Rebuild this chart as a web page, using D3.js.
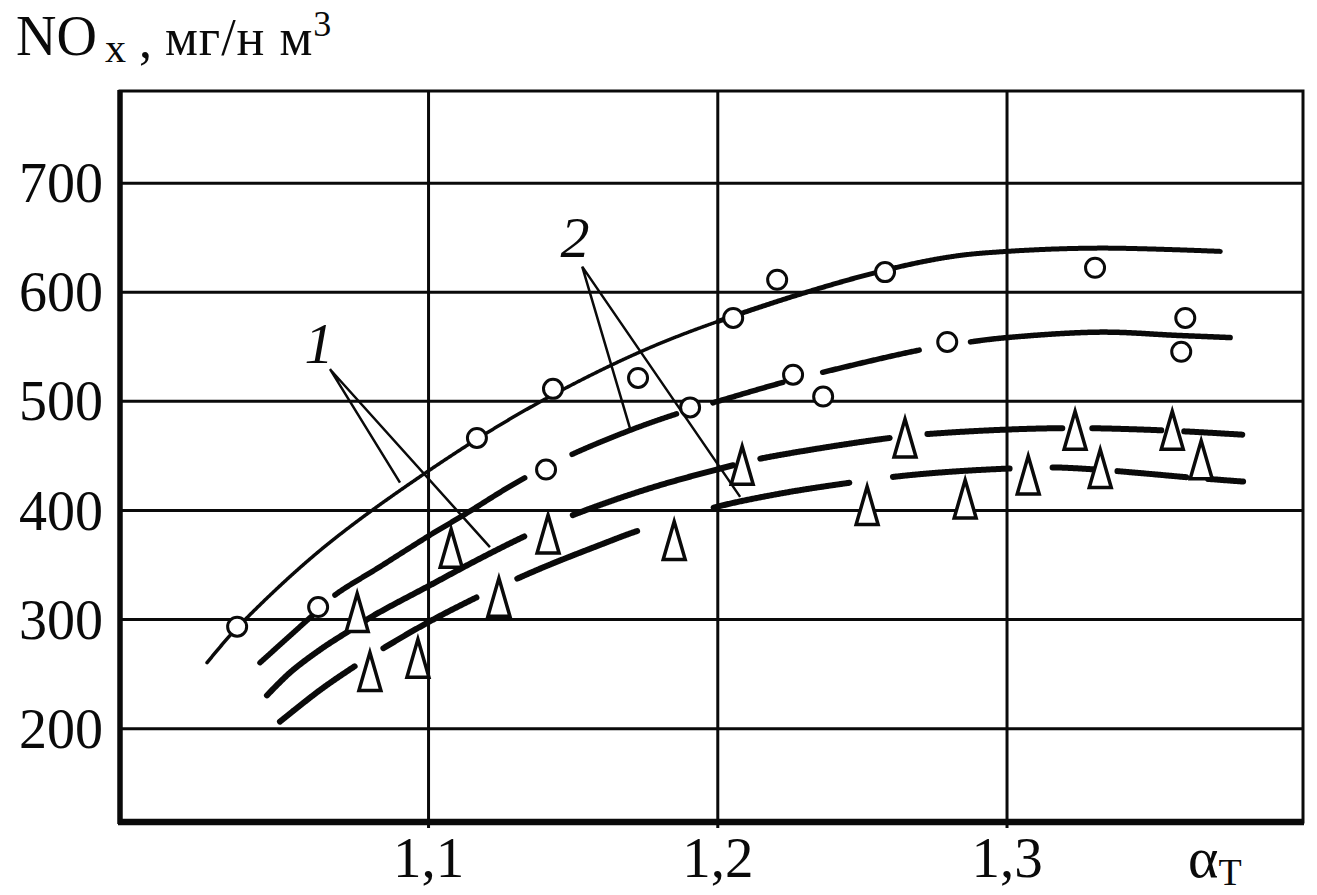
<!DOCTYPE html>
<html><head><meta charset="utf-8">
<script src="https://cdn.jsdelivr.net/npm/d3@7"></script>
<style>body{margin:0;background:#fff}svg{display:block}</style>
</head><body>
<svg id="chart" width="1317" height="895"></svg>
<script>
// ---------- data ----------
const xTicks = [1.1, 1.2, 1.3];
const xTickLabels = ["1,1", "1,2", "1,3"];
const yTicks = [200, 300, 400, 500, 600, 700];
const yTickLabels = ["200", "300", "400", "500", "600", "700"];

// curve 1 (circles, upper)
const curveA_x = [1.0236,1.034,1.0627,1.0997,1.1353,1.1743,1.2103,1.2539,1.2805,1.3002,1.3324,1.3739];
const curveA_y = [260,292,363,435,494,546,582,617,632,637,640,637];
const curveA_pieces = [[1.0236,1.2],[1.2,1.3739]];
const circlesA_x = [1.034,1.1169,1.1432,1.1726,1.2055,1.2207,1.258,1.3306];
const circlesA_y = [293,466,511,521,576,611,618,622];

// curve 2 (circles, lower)
const curveB_x = [1.0419,1.062,1.0678,1.0834,1.1007,1.1121,1.1318,1.1498,1.1698,1.1847,1.1982,1.2228,1.2362,1.2708,1.2874,1.3002,1.3324,1.359,1.3773];
const curveB_y = [260,308,322,348,377,395,427,451,473,487,498,517,526,547,554,558,563,560,558];
const curveB_pieces = [[1.0419,1.062],[1.0678,1.1335],[1.1498,1.1861],[1.1982,1.2228],[1.2362,1.2701],[1.2874,1.3773]];
const circlesB_x = [1.062,1.1408,1.1906,1.2262,1.2366,1.2795,1.3618,1.3604];
const circlesB_y = [311,437,494,524,504,554,576,545];

// curve 1 (triangles, upper)
const curveC_x = [1.0443,1.0523,1.0627,1.072,1.0817,1.1007,1.1169,1.1335,1.1498,1.1768,1.2055,1.2148,1.2597,1.2805,1.3196,1.3538,1.3815];
const curveC_y = [230,251,272,288,304,331,354,376,395,420,441,447,466,471,475,473,469];
const curveC_pieces = [[1.0443,1.1335],[1.1498,1.2055],[1.2148,1.2597],[1.2725,1.3196],[1.3296,1.3538],[1.3611,1.3815]];
const trianglesC_x = [1.0755,1.108,1.1415,1.2086,1.2649,1.3237,1.3573];
const trianglesC_y = [306,365,378,441,466,473,473];

// curve 2 (triangles, lower)
const curveD_x = [1.0488,1.0627,1.0748,1.0844,1.1007,1.1169,1.1308,1.1422,1.1595,1.1726,1.1985,1.2217,1.2459,1.2632,1.2805,1.3012,1.3158,1.3313,1.3497,1.3624,1.3818];
const curveD_y = [206,235,257,273,298,320,337,350,368,381,402,415,425,431,435,438,439,437,433,430,426];
const curveD_pieces = [[1.0488,1.0748],[1.0844,1.1169],[1.1308,1.1726],[1.1985,1.2459],[1.2604,1.3012],[1.3158,1.3313],[1.3382,1.3624],[1.3694,1.3818]];
const trianglesD_x = [1.0799,1.0965,1.1245,1.1851,1.2518,1.2857,1.3075,1.3324,1.3673];
const trianglesD_y = [252,264,320,372,404,410,432,438,446];

// annotations
const labels = ["1", "2"];
const labelPos = [[1.0623, 535], [1.1508, 632]];
const leader1 = [[1.0903,425],[1.0661,529],[1.1214,366]];
const leader2 = [[1.1698,475],[1.1533,623],[1.2079,412]];

// ---------- drawing ----------
const svg = d3.select("#chart");
svg.append("rect").attr("width",1317).attr("height",895).attr("fill","#fff");
const L = 120, R = 1303, T = 91, B = 822;
const x = d3.scaleLinear().domain([0.9935, 1.4025]).range([L, R]);
const y = d3.scaleLinear().domain([114, 784]).range([B, T]);
const ink = "#0a0a0a";
const serif = "'Liberation Serif','Times New Roman',serif";

// grid via axes
const gx = svg.append("g").attr("transform", `translate(0,${B})`)
  .call(d3.axisBottom(x).tickValues(xTicks).tickFormat((d,i)=>xTickLabels[i])
    .tickSize(-(B-T)).tickPadding(0));
gx.select(".domain").remove();
gx.selectAll(".tick line").attr("stroke", ink).attr("stroke-width", 3).attr("y1", 6);
gx.selectAll(".tick text").attr("y", 55).attr("dy", 0)
  .attr("font-family", serif).attr("font-size", 57).attr("fill", ink);

const gy = svg.append("g").attr("transform", `translate(${L},0)`)
  .call(d3.axisLeft(y).tickValues(yTicks).tickFormat((d,i)=>yTickLabels[i])
    .tickSize(-(R-L)).tickPadding(0));
gy.select(".domain").remove();
gy.selectAll(".tick line").attr("stroke", ink).attr("stroke-width", 3);
gy.selectAll(".tick text").attr("x", -17).attr("dy", "0.34em")
  .attr("font-family", serif).attr("font-size", 56).attr("fill", ink);

// frame
svg.append("rect").attr("x", L).attr("y", T).attr("width", R-L).attr("height", B-T)
  .attr("fill", "none").attr("stroke", ink).attr("stroke-width", 3);
svg.append("line").attr("x1", L).attr("x2", L).attr("y1", T-1).attr("y2", B+2)
  .attr("stroke", ink).attr("stroke-width", 5.5);
svg.append("line").attr("x1", L-2).attr("x2", R+1).attr("y1", B).attr("y2", B)
  .attr("stroke", ink).attr("stroke-width", 6.5);

const plot = svg.append("g");

function drawCurve(xs, ys, pieces, widthOf) {
  const pts = xs.map((v,i)=>[x(v), y(ys[i])]);
  const tmp = plot.append("path").attr("d", d3.line().curve(d3.curveCatmullRom.alpha(0.5))(pts))
    .attr("fill","none").attr("stroke","none");
  const node = tmp.node(), len = node.getTotalLength();
  const samples = d3.range(0, len, 1).map(l => { const p = node.getPointAtLength(l); return [p.x, p.y]; });
  samples.push(pts[pts.length-1]);
  tmp.remove();
  pieces.forEach(([a,b]) => {
    const pa = x(a), pb = x(b);
    const seg = samples.filter(p => p[0] >= pa - 0.01 && p[0] <= pb + 0.01);
    if (seg.length < 2) return;
    plot.append("path").attr("d", d3.line()(seg)).attr("fill","none")
      .attr("stroke", ink).attr("stroke-width", widthOf((a+b)/2))
      .attr("stroke-linecap","round").attr("stroke-linejoin","round");
  });
}
drawCurve(curveA_x, curveA_y, curveA_pieces, m => m < 1.2 ? 3.5 : 5);
drawCurve(curveB_x, curveB_y, curveB_pieces, () => 5.5);
drawCurve(curveC_x, curveC_y, curveC_pieces, () => 6);
drawCurve(curveD_x, curveD_y, curveD_pieces, () => 6);

// leaders
[leader1, leader2].forEach(ld => {
  plot.append("path").attr("d", d3.line().x(d=>x(d[0])).y(d=>y(d[1]))(ld))
    .attr("fill","none").attr("stroke", ink).attr("stroke-width", 2.5).attr("stroke-linejoin","miter");
});
labels.forEach((t,i) => {
  plot.append("text").attr("x", x(labelPos[i][0])).attr("y", y(labelPos[i][1]))
    .attr("text-anchor","middle").attr("font-family", serif).attr("font-style","italic")
    .attr("font-size", 58).attr("fill", ink).text(t);
});

// markers
function circles(xs, ys) {
  plot.selectAll(null).data(xs.map((v,i)=>[v, ys[i]])).enter().append("circle")
    .attr("cx", d=>x(d[0])).attr("cy", d=>y(d[1])).attr("r", 9.5)
    .attr("fill","#fff").attr("stroke", ink).attr("stroke-width", 3);
}
function triangles(xs, ys) {
  const w = 22, h = 38;
  plot.selectAll(null).data(xs.map((v,i)=>[v, ys[i]])).enter().append("path")
    .attr("d", `M0,${-h/2}L${w/2},${h/2}L${-w/2},${h/2}Z`)
    .attr("transform", d=>`translate(${x(d[0])},${y(d[1])})`)
    .attr("fill","#fff").attr("stroke", ink).attr("stroke-width", 3.5).attr("stroke-linejoin","miter");
}
circles(circlesA_x, circlesA_y);
circles(circlesB_x, circlesB_y);
triangles(trianglesC_x, trianglesC_y);
triangles(trianglesD_x, trianglesD_y);

// titles
const title = svg.append("text").attr("x", 16).attr("y", 55)
  .attr("font-family", serif).attr("fill", ink);
title.append("tspan").attr("font-size", 56).text("NO");
title.append("tspan").attr("font-size", 42).attr("dx", 8).attr("dy", 7).text("x");
title.append("tspan").attr("font-size", 52).attr("dy", -5).text(" , ");
title.append("tspan").attr("font-size", 52).attr("dy", -2).attr("letter-spacing", 1).text("мг/н м");
title.append("tspan").attr("font-size", 36).attr("dy", -19).text("3");

const ax = svg.append("text").attr("x", 1188).attr("y", 877)
  .attr("font-family", serif).attr("fill", ink);
ax.append("tspan").attr("font-size", 58).text("α");
ax.append("tspan").attr("font-size", 38).attr("dy", 8).text("T");
</script>
</body></html>
